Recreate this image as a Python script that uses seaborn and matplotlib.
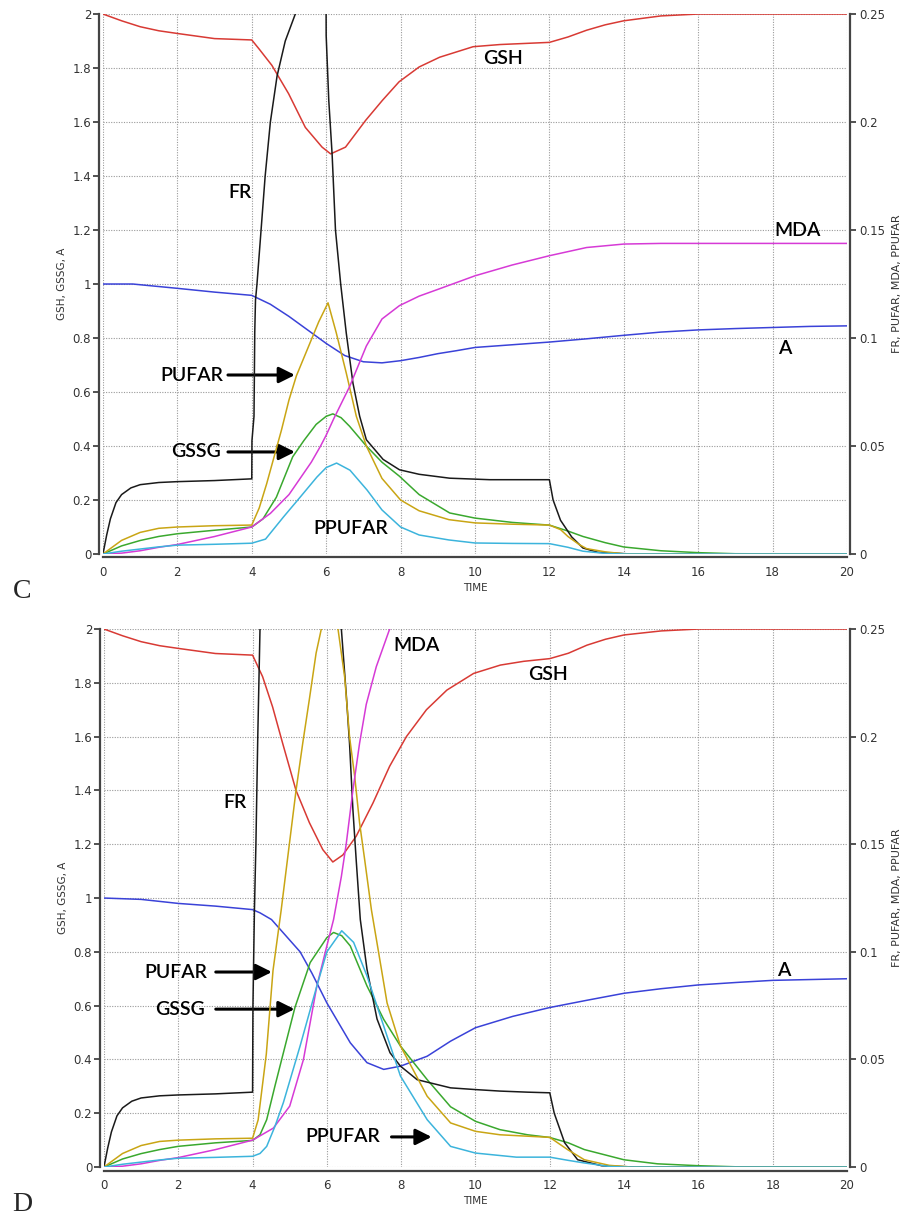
import matplotlib
matplotlib.use("Agg")
import matplotlib.pyplot as plt
import seaborn as sns
from matplotlib.ticker import FuncFormatter

# ---------------- Panel C data ----------------
# left axis (GSH, GSSG, A)
C_GSH_t = [0, 0.5, 1, 1.5, 2, 3, 4, 4.2, 4.54, 4.99, 5.44, 5.89, 6.12, 6.52, 7.06, 7.51, 7.96, 8.5, 9.05, 9.95, 10.67, 11.5, 12, 12.5, 13, 13.5, 14, 15, 16, 20]
C_GSH = [2.0, 1.975, 1.953, 1.938, 1.928, 1.909, 1.904, 1.87, 1.81, 1.705, 1.58, 1.507, 1.482, 1.507, 1.606, 1.68, 1.749, 1.804, 1.84, 1.879, 1.887, 1.892, 1.895, 1.915, 1.94, 1.96, 1.975, 1.993, 2.0, 2.0]
C_A_t = [0, 0.8, 2, 3, 4, 4.5, 5, 5.5, 6, 6.5, 7, 7.5, 8, 8.5, 9, 9.5, 10, 11, 12, 13, 14, 15, 16, 17, 18, 19, 20]
C_A = [1.0, 1.0, 0.984, 0.97, 0.958, 0.925, 0.88, 0.83, 0.78, 0.735, 0.712, 0.708, 0.716, 0.728, 0.742, 0.753, 0.765, 0.775, 0.785, 0.797, 0.81, 0.822, 0.83, 0.835, 0.839, 0.843, 0.845]
C_GSSG_t = [0, 0.5, 1, 1.5, 2, 3, 4, 4.3, 4.66, 5.1, 5.4, 5.73, 6.0, 6.18, 6.4, 6.63, 7.08, 7.5, 7.97, 8.5, 9.32, 10, 11, 12, 12.5, 12.9, 13.5, 14, 15, 16, 17, 20]
C_GSSG = [0, 0.03, 0.05, 0.065, 0.075, 0.088, 0.10, 0.13, 0.21, 0.36, 0.42, 0.48, 0.51, 0.519, 0.505, 0.473, 0.40, 0.34, 0.288, 0.22, 0.152, 0.133, 0.117, 0.107, 0.085, 0.065, 0.042, 0.026, 0.012, 0.005, 0.001, 0]
# right axis (FR, PUFAR, MDA, PPUFAR)
C_FR_t = [0, 0.1, 0.2, 0.35, 0.5, 0.75, 1, 1.5, 2, 3, 4, 4.005, 4.06, 4.08, 4.1, 4.14, 4.25, 4.36, 4.5, 4.68, 4.9, 5.17, 5.5, 5.99, 6.0, 6.07, 6.16, 6.25, 6.39, 6.54, 6.72, 6.9, 7.08, 7.53, 7.97, 8.5, 9.32, 10.4, 12, 12.1, 12.3, 12.6, 12.9, 13.3, 14.2, 20]
C_FR = [0, 0.0088, 0.0163, 0.0238, 0.0275, 0.0306, 0.0321, 0.0331, 0.0335, 0.034, 0.0348, 0.0525, 0.0638, 0.1025, 0.1175, 0.125, 0.15, 0.175, 0.2, 0.2213, 0.2375, 0.25, 0.2688, 0.2938, 0.24, 0.21, 0.185, 0.15, 0.125, 0.1023, 0.0791, 0.0638, 0.0529, 0.0438, 0.039, 0.0369, 0.0351, 0.0344, 0.0344, 0.025, 0.0156, 0.0079, 0.0028, 0.0008, 0, 0]
C_PUFAR_t = [0, 0.5, 1, 1.5, 2, 3, 4, 4.2, 4.4, 4.6, 4.8, 5.0, 5.2, 5.5, 5.8, 6.05, 6.27, 6.54, 6.81, 7.08, 7.5, 8.0, 8.5, 9.3, 10, 11, 12, 12.3, 12.5, 12.8, 13.0, 13.5, 14, 20]
C_PUFAR = [0, 0.0063, 0.01, 0.0119, 0.0125, 0.0131, 0.0134, 0.0213, 0.0325, 0.045, 0.0575, 0.0713, 0.0825, 0.095, 0.1075, 0.1163, 0.1025, 0.0838, 0.0638, 0.05, 0.035, 0.025, 0.02, 0.0159, 0.0144, 0.0138, 0.0134, 0.0113, 0.0081, 0.0044, 0.0025, 0.001, 0.0001, 0]
C_MDA_t = [0, 0.5, 1, 1.5, 2, 3, 4, 4.5, 5.0, 5.3, 5.6, 5.85, 6.0, 6.2, 6.63, 7.08, 7.5, 7.97, 8.5, 9, 10, 11, 12, 13, 14, 15, 20]
C_MDA = [0, 0.0004, 0.0015, 0.0031, 0.0044, 0.0081, 0.0125, 0.0188, 0.0275, 0.035, 0.0425, 0.05, 0.055, 0.0625, 0.0775, 0.0963, 0.1088, 0.115, 0.1194, 0.1225, 0.1288, 0.1338, 0.1381, 0.1419, 0.1435, 0.1438, 0.1438]
C_PPUFAR_t = [0, 0.5, 1, 1.5, 2, 3, 4, 4.37, 4.85, 5.3, 5.75, 6.0, 6.28, 6.64, 7.1, 7.5, 8.0, 8.5, 9.3, 10, 11, 12, 12.5, 12.9, 13.5, 14, 20]
C_PPUFAR = [0, 0.0013, 0.0023, 0.0033, 0.0041, 0.0045, 0.005, 0.0069, 0.0171, 0.0263, 0.0356, 0.04, 0.0421, 0.0388, 0.0296, 0.0204, 0.0125, 0.0088, 0.0065, 0.0051, 0.0049, 0.0048, 0.0031, 0.0013, 0.0003, 0, 0]

# ---------------- Panel D data ----------------
D_GSH_t = [0, 0.5, 1, 1.5, 2, 3, 4, 4.27, 4.54, 4.81, 5.17, 5.53, 5.89, 6.16, 6.43, 6.79, 7.24, 7.69, 8.14, 8.68, 9.23, 9.95, 10.67, 11.3, 12, 12.5, 13, 13.5, 14, 15, 16, 20]
D_GSH = [2.0, 1.975, 1.953, 1.938, 1.928, 1.909, 1.903, 1.823, 1.71, 1.575, 1.40, 1.28, 1.18, 1.134, 1.16, 1.23, 1.353, 1.49, 1.60, 1.70, 1.773, 1.835, 1.866, 1.88, 1.89, 1.91, 1.94, 1.962, 1.978, 1.993, 2.0, 2.0]
D_A_t = [0, 1, 2, 3, 4, 4.2, 4.51, 5.28, 5.6, 6.0, 6.63, 7.08, 7.53, 7.98, 8.7, 9.33, 10, 11, 12, 13, 14, 15, 16, 17, 18, 19, 20]
D_A = [1.0, 0.995, 0.98, 0.97, 0.957, 0.945, 0.92, 0.80, 0.72, 0.61, 0.462, 0.388, 0.363, 0.375, 0.412, 0.468, 0.518, 0.56, 0.593, 0.62, 0.646, 0.663, 0.677, 0.686, 0.694, 0.697, 0.70]
D_GSSG_t = [0, 0.5, 1, 1.5, 2, 3, 4, 4.2, 4.38, 4.6, 4.83, 5.14, 5.55, 6.0, 6.18, 6.4, 6.63, 7.08, 7.53, 7.98, 8.7, 9.33, 10, 10.66, 11.4, 12, 12.5, 12.93, 14, 14.9, 16, 17, 20]
D_GSSG = [0, 0.03, 0.05, 0.065, 0.077, 0.09, 0.099, 0.12, 0.176, 0.3, 0.425, 0.593, 0.76, 0.853, 0.872, 0.86, 0.822, 0.673, 0.549, 0.45, 0.325, 0.224, 0.17, 0.139, 0.12, 0.11, 0.09, 0.065, 0.027, 0.012, 0.005, 0.001, 0]
D_FR_t = [0, 0.1, 0.2, 0.35, 0.5, 0.75, 1, 1.5, 2, 3, 4, 4.01, 4.05, 4.09, 4.14, 4.2, 4.5, 5.5, 6.3, 6.39, 6.52, 6.61, 6.7, 6.79, 6.9, 7.08, 7.35, 7.7, 7.98, 8.43, 9.33, 10, 10.66, 11.4, 12, 12.12, 12.4, 12.75, 13.4, 14.3, 20]
D_FR = [0, 0.0088, 0.0163, 0.0238, 0.0275, 0.0306, 0.0321, 0.0331, 0.0335, 0.034, 0.0348, 0.075, 0.1194, 0.15, 0.2, 0.25, 0.325, 0.4, 0.325, 0.25, 0.22, 0.1969, 0.1663, 0.1425, 0.115, 0.0919, 0.0688, 0.0531, 0.0469, 0.0406, 0.0368, 0.036, 0.0353, 0.0348, 0.0345, 0.025, 0.0113, 0.0034, 0.0006, 0, 0]
D_PUFAR_t = [0, 0.5, 1, 1.5, 2, 3, 4, 4.15, 4.37, 4.55, 4.77, 4.99, 5.17, 5.35, 5.53, 5.71, 5.85, 6.05, 6.3, 6.48, 6.61, 6.75, 6.88, 7.02, 7.2, 7.39, 7.62, 7.98, 8.7, 9.33, 10, 10.66, 12, 12.48, 12.93, 13.6, 14.2, 20]
D_PUFAR = [0, 0.0063, 0.01, 0.0119, 0.0125, 0.0131, 0.0134, 0.0219, 0.0525, 0.0913, 0.1194, 0.15, 0.175, 0.1969, 0.2175, 0.2388, 0.25, 0.275, 0.25, 0.2275, 0.2, 0.1813, 0.16, 0.1425, 0.1194, 0.1, 0.0763, 0.0563, 0.0329, 0.0205, 0.0166, 0.015, 0.0138, 0.0081, 0.0034, 0.0008, 0, 0]
D_MDA_t = [0, 0.5, 1, 1.5, 2, 3, 4, 4.56, 5.0, 5.37, 5.73, 6.0, 6.18, 6.39, 6.52, 6.7, 6.88, 7.06, 7.33, 7.69, 8.0, 9, 10, 12, 14, 20]
D_MDA = [0, 0.0004, 0.0015, 0.0031, 0.0044, 0.0081, 0.0125, 0.0181, 0.0283, 0.05, 0.0841, 0.1028, 0.115, 0.135, 0.15, 0.175, 0.1969, 0.215, 0.2325, 0.25, 0.2688, 0.3, 0.3188, 0.3375, 0.3438, 0.3438]
D_PPUFAR_t = [0, 0.5, 1, 1.5, 2, 3, 4, 4.2, 4.38, 4.6, 4.83, 5.28, 5.73, 6.0, 6.4, 6.72, 7.08, 7.53, 7.98, 8.7, 9.33, 10, 11.1, 12, 12.5, 12.93, 13.6, 14, 20]
D_PPUFAR = [0, 0.0013, 0.0023, 0.0033, 0.0041, 0.0045, 0.005, 0.0063, 0.0096, 0.0188, 0.03, 0.0563, 0.0841, 0.1, 0.1098, 0.1044, 0.0888, 0.0655, 0.0423, 0.022, 0.0096, 0.0065, 0.0046, 0.0046, 0.0031, 0.0019, 0.0003, 0, 0]

X_TICKS = [0, 2, 4, 6, 8, 10, 12, 14, 16, 18, 20]
LEFT_TICKS = [0, 0.2, 0.4, 0.6, 0.8, 1, 1.2, 1.4, 1.6, 1.8, 2]
RIGHT_TICKS = [0, 0.05, 0.1, 0.15, 0.2, 0.25]

COL = {"GSH": "#d83a34", "A": "#3a42d8", "GSSG": "#3aa82e", "FR": "#1a1a1a",
       "PUFAR": "#c9a514", "MDA": "#d63ad6", "PPUFAR": "#3cb4dc"}

sns.set_style("white")
plt.rcParams['font.family'] = ['DejaVu Sans']

fig = plt.figure(figsize=(9.08, 12.2), dpi=100)

fmt = FuncFormatter(lambda v, p: f"{v:g}")


def build_panel(rect, left_series, right_series, letter):
    ax = fig.add_axes(rect)
    ax2 = ax.twinx()
    for t, v, name in left_series:
        sns.lineplot(x=t, y=v, ax=ax, color=COL[name], lw=1.1, estimator=None, legend=False)
    for t, v, name in right_series:
        sns.lineplot(x=t, y=v, ax=ax2, color=COL[name], lw=1.1, estimator=None, legend=False)
    ax.set_xlim(0, 20)
    ax.set_ylim(0, 2)
    ax2.set_ylim(0, 0.25)
    ax.set_xticks(X_TICKS)
    ax.set_yticks(LEFT_TICKS)
    ax2.set_yticks(RIGHT_TICKS)
    ax.xaxis.set_major_formatter(fmt)
    ax.yaxis.set_major_formatter(fmt)
    ax2.yaxis.set_major_formatter(fmt)
    ax.grid(True, linestyle=(0, (1, 1.3)), color="#9a9a9a", lw=0.8)
    for a in (ax, ax2):
        a.spines["top"].set_visible(False)
        for s in ("left", "right", "bottom"):
            a.spines[s].set_color("#444444")
            a.spines[s].set_linewidth(1.6)
            a.spines[s].set_position(("outward", 2.5))
        a.tick_params(direction="out", length=4, width=1.2, color="#333333",
                      labelsize=8.5, labelcolor="#333333", pad=2)
    ax.spines["right"].set_visible(False)
    ax2.spines["left"].set_visible(False)
    ax2.spines["bottom"].set_visible(False)
    ax.set_xlabel("TIME", fontsize=7.5, color="#333333", labelpad=3)
    ax.set_ylabel("GSH, GSSG, A", fontsize=7.5, color="#333333", labelpad=4)
    ax2.set_ylabel("FR, PUFAR, MDA, PPUFAR", fontsize=8, color="#333333", labelpad=5)
    fig.text(0.024, rect[1] - 0.031, letter, fontsize=20, family="Liberation Serif",
             ha="center", va="center")
    return ax


axC = build_panel([0.1134, 0.5459, 0.8194, 0.4426],
                  [(C_GSH_t, C_GSH, "GSH"), (C_A_t, C_A, "A"), (C_GSSG_t, C_GSSG, "GSSG")],
                  [(C_FR_t, C_FR, "FR"), (C_PUFAR_t, C_PUFAR, "PUFAR"),
                   (C_MDA_t, C_MDA, "MDA"), (C_PPUFAR_t, C_PPUFAR, "PPUFAR")], "C")
axD = build_panel([0.1145, 0.0434, 0.8183, 0.4410],
                  [(D_GSH_t, D_GSH, "GSH"), (D_A_t, D_A, "A"), (D_GSSG_t, D_GSSG, "GSSG")],
                  [(D_FR_t, D_FR, "FR"), (D_PUFAR_t, D_PUFAR, "PUFAR"),
                   (D_MDA_t, D_MDA, "MDA"), (D_PPUFAR_t, D_PPUFAR, "PPUFAR")], "D")

LBL = dict(fontsize=14, family="Lato", fontweight="semibold", color="black",
           ha="center", va="center", zorder=10)
ARW = dict(arrowstyle="-|>", lw=2.2, color="black", mutation_scale=24, shrinkA=0, shrinkB=0)


def label(ax, s, x, y):
    ax.text(x, y, s, transform=ax.transData, **LBL)


def arrow(ax, x0, x1, y):
    ax.annotate("", xy=(x1, y), xytext=(x0, y), xycoords="data", arrowprops=ARW, zorder=10)


# Panel C annotations (left-axis data coordinates)
label(axC, "GSH", 10.75, 1.837)
label(axC, "FR", 3.68, 1.34)
label(axC, "MDA", 18.68, 1.20)
label(axC, "A", 18.33, 0.763)
label(axC, "PUFAR", 2.39, 0.663)
arrow(axC, 3.36, 5.16, 0.663)
label(axC, "GSSG", 2.50, 0.381)
arrow(axC, 3.36, 5.16, 0.378)
label(axC, "PPUFAR", 6.67, 0.093)

# Panel D annotations
label(axD, "MDA", 8.41, 1.94)
label(axD, "GSH", 11.96, 1.83)
label(axD, "FR", 3.52, 1.357)
label(axD, "A", 18.3, 0.732)
label(axD, "PUFAR", 1.94, 0.725)
arrow(axD, 3.01, 4.52, 0.725)
label(axD, "GSSG", 2.04, 0.587)
arrow(axD, 3.01, 5.13, 0.587)
label(axD, "PPUFAR", 6.42, 0.112)
arrow(axD, 7.74, 8.82, 0.112)

fig.savefig("out.png", dpi=100)
